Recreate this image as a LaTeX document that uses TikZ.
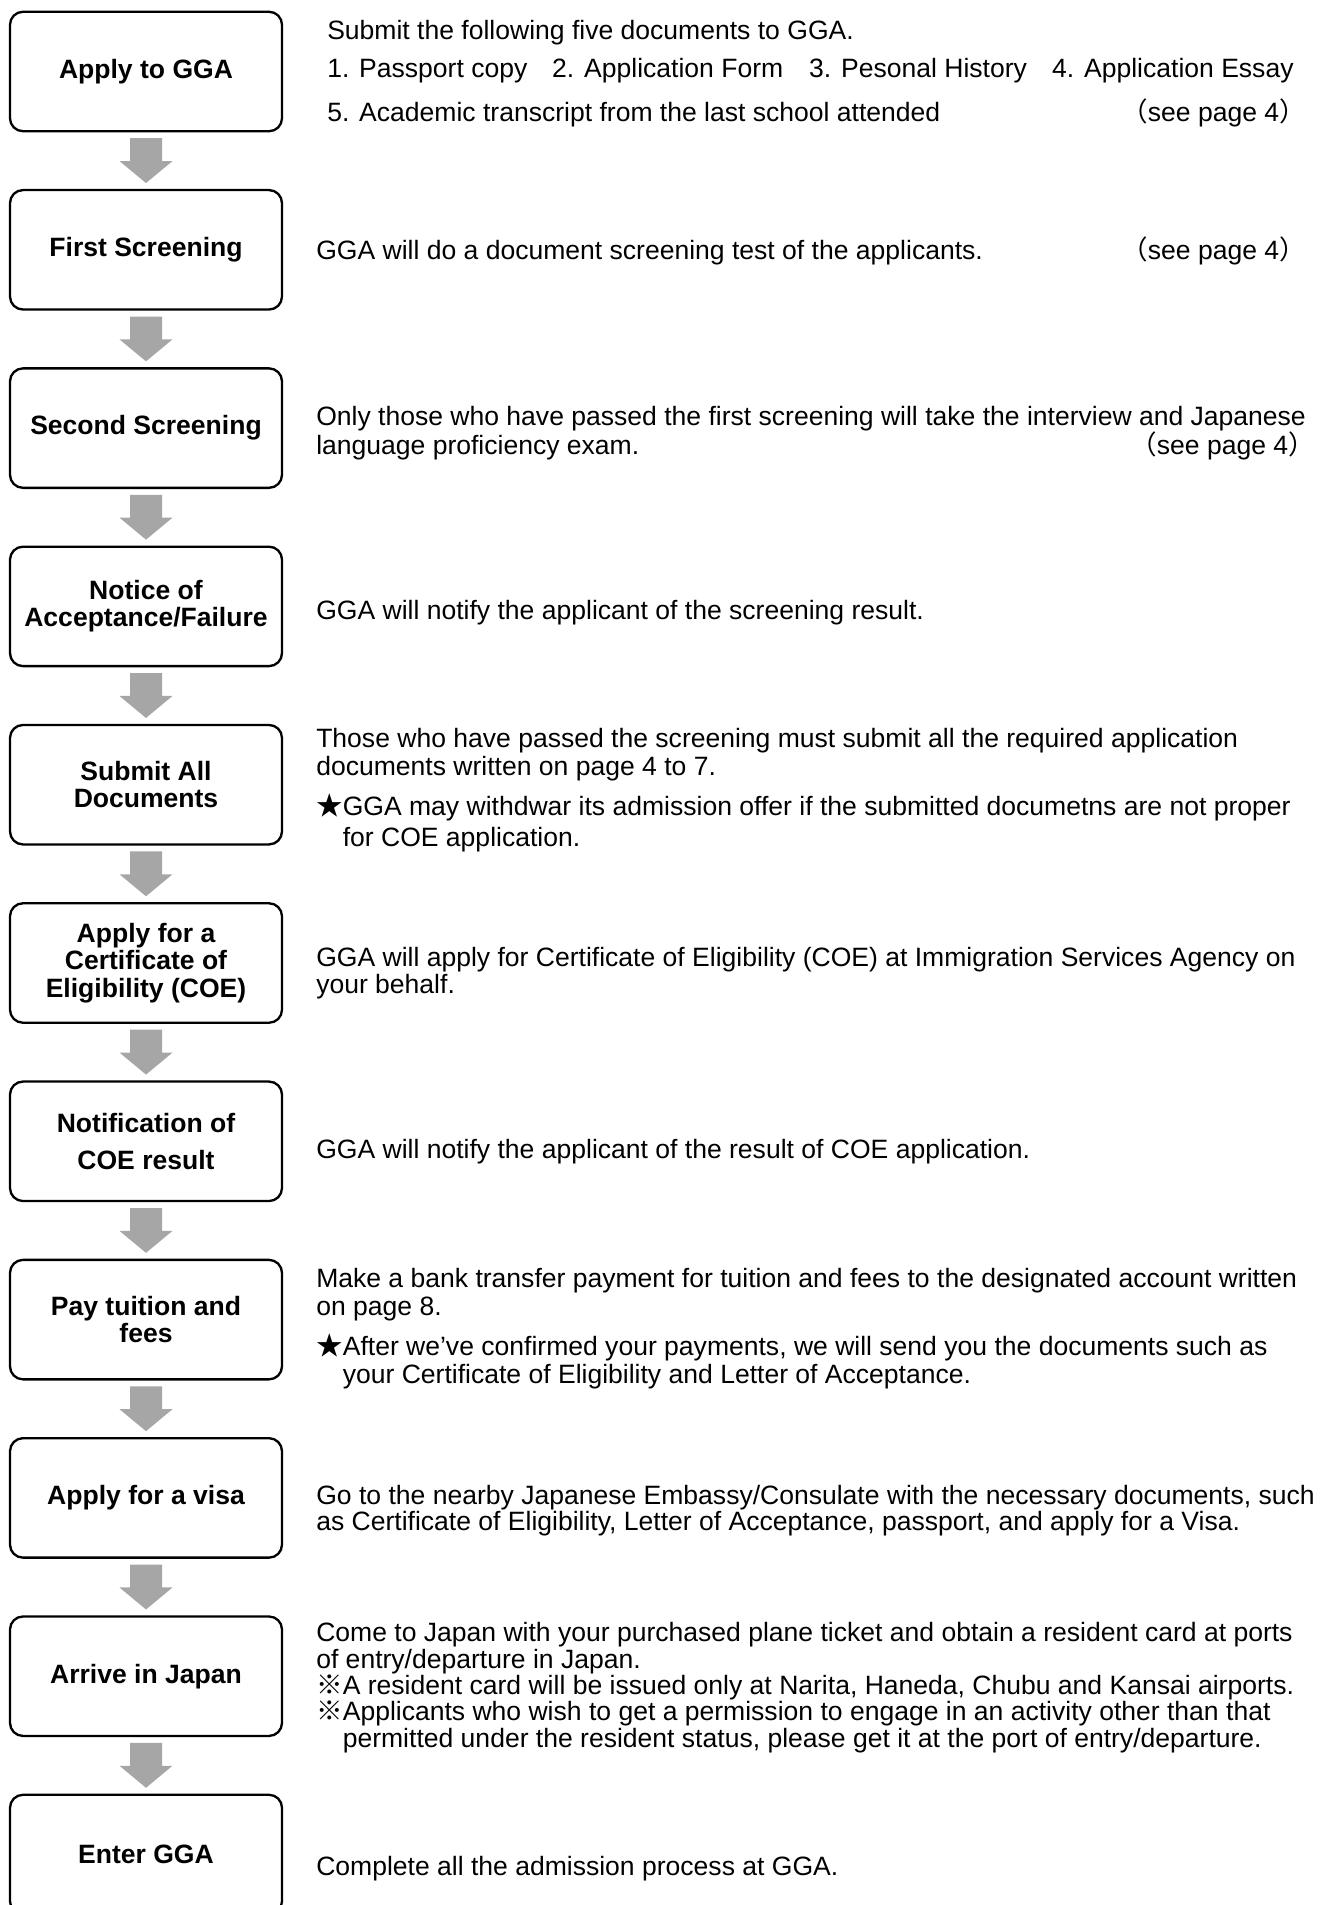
\documentclass[tikz,border=0pt]{standalone}
\usepackage{fontspec}
\setmainfont{Liberation Sans}
\newfontfamily\jpfont{Noto Sans CJK JP}
\usetikzlibrary{calc}

\definecolor{arrowgray}{RGB}{166,166,166}

% grey block arrow between two steps
\newcommand{\flowarrow}[2]{%
  \fill[arrowgray] ($(#1.south)+(-16,7)$) -- ($(#1.south)+(16,7)$) -- ($(#2.north)+(16,-29)$) -- ($(#2.north)+(26.5,-29)$)
    -- ($(#2.north)+(0,-7)$) -- ($(#2.north)+(-26.5,-29)$) -- ($(#2.north)+(-16,-29)$) -- cycle;}
\newcommand{\seepg}{{\jpfont （}see page 4{\jpfont ）}}

\tikzset{
  stepbox/.style={draw, line width=1.75pt, rounded corners=9.75pt, minimum width=204pt, minimum height=89.6pt,
    outer sep=0pt, inner sep=2pt, align=center, font=\bfseries\fontsize{19.9pt}{20.5pt}\selectfont},
  desc/.style={anchor=base west, inner sep=0pt, align=left, font=\fontsize{19.9pt}{20.25pt}\selectfont},
  seepage/.style={anchor=base east, inner sep=0pt, font=\fontsize{19.9pt}{20.25pt}\selectfont}
}

\begin{document}
\begin{tikzpicture}[x=0.75pt,y=-0.75pt]
	\useasboundingbox (0,0) rectangle (1323,1905);
	% steps
	\node[stepbox] (b1) at (146,71.5) {Apply to GGA};
	\node[stepbox] (b2) at (146,249.8) {First Screening};
	\node[stepbox] (b3) at (146,428.1) {Second Screening};
	\node[stepbox] (b4) at (146,606.4) {Notice of\\Acceptance/Failure};
	\node[stepbox] (b5) at (146,784.7) {Submit All\\Documents};
	\node[stepbox] (b6) at (146,963) {Apply for a\\Certificate of\\Eligibility (COE)};
	\node[stepbox] (b7) at (146,1141.3) {Notification of\\[7pt]COE result};
	\node[stepbox] (b8) at (146,1319.6) {Pay tuition and\\fees};
	\node[stepbox] (b9) at (146,1497.9) {Apply for a visa};
	\node[stepbox] (b10) at (146,1676.2) {Arrive in Japan};
	\node[stepbox] (b11) at (146,1854.5) {Enter GGA};
	% arrows
	\flowarrow{b1}{b2}
	\flowarrow{b2}{b3}
	\flowarrow{b3}{b4}
	\flowarrow{b4}{b5}
	\flowarrow{b5}{b6}
	\flowarrow{b6}{b7}
	\flowarrow{b7}{b8}
	\flowarrow{b8}{b9}
	\flowarrow{b9}{b10}
	\flowarrow{b10}{b11}
	% descriptions (anchored on the last line)
	\node[desc] (t1) at (327,122) {Submit the following five documents to GGA.\\[8.25pt]
		\makebox[168.75pt][l]{1. Passport copy}\makebox[192.75pt][l]{2. Application Form}\makebox[182.25pt][l]{3. Pesonal History}4. Application Essay\\[12.75pt]
		5. Academic transcript from the last school attended};
	\node[seepage] (s1) at (1306,122) {\seepg};
	\node[desc] (t2) at (316,259) {GGA will do a document screening test of the applicants.};
	\node[seepage] (s2) at (1306,259) {\seepg};
	\node[desc] (t3) at (316,454) {Only those who have passed the first screening will take the interview and Japanese\\[1.5pt]
		language proficiency exam.};
	\node[seepage] (s3) at (1315,454) {\seepg};
	\node[desc] (t4) at (316,619) {GGA will notify the applicant of the screening result.};
	\node[desc] (t5) at (316,775) {Those who have passed the screening must submit all the required application\\[0.75pt]
		documents written on page 4 to 7.};
	\node[desc] (n5) at (316,846) {{\jpfont ★}GGA may withdwar its admission offer if the submitted documetns are not proper\\[3pt]
		\hspace*{1em}for COE application.};
	\node[desc] (t6) at (316,993) {GGA will apply for Certificate of Eligibility (COE) at Immigration Services Agency on\\
		your behalf.};
	\node[desc] (t7) at (316,1158) {GGA will notify the applicant of the result of COE application.};
	\node[desc] (t8) at (316,1315) {Make a bank transfer payment for tuition and fees to the designated account written\\[0.75pt]
		on page 8.};
	\node[desc] (n8) at (316,1383) {{\jpfont ★}After we've confirmed your payments, we will send you the documents such as\\[0.75pt]
		\hspace*{1em}your Certificate of Eligibility and Letter of Acceptance.};
	\node[desc] (t9) at (316,1530) {Go to the nearby Japanese Embassy/Consulate with the necessary documents, such\\[-0.75pt]
		as Certificate of Eligibility, Letter of Acceptance, passport, and apply for a Visa.};
	\node[desc] (t10) at (316,1747) {Come to Japan with your purchased plane ticket and obtain a resident card at ports\\[-0.5pt]
		of entry/departure in Japan.\\[-0.5pt]
		{\jpfont ※}A resident card will be issued only at Narita, Haneda, Chubu and Kansai airports.\\[-0.5pt]
		{\jpfont ※}Applicants who wish to get a permission to engage in an activity other than that\\[-0.5pt]
		\hspace*{1em}permitted under the resident status, please get it at the port of entry/departure.};
	\node[desc] (t11) at (316,1875) {Complete all the admission process at GGA.};
\end{tikzpicture}
\end{document}
